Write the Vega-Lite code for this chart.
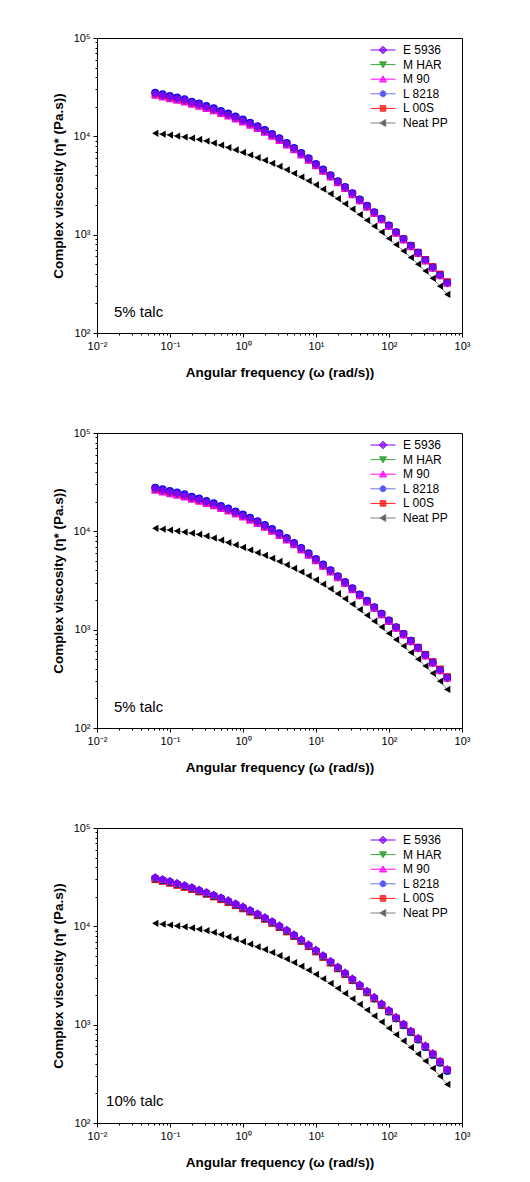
{
  "$schema": "https://vega.github.io/schema/vega-lite/v6.json",
  "background": "white",
  "autosize": {"type": "pad"},
  "padding": {"left": 50, "top": 31, "right": 10, "bottom": 10},
  "spacing": 100,
  "bounds": "flush",
  "config": {
    "view": {"stroke": "black", "strokeWidth": 1},
    "font": "Liberation Sans",
    "axis": {"domainColor": "black", "domainWidth": 1, "tickColor": "black", "tickWidth": 1, "labelColor": "black", "titleColor": "black", "labelFont": "Liberation Sans", "titleFont": "Liberation Sans", "labelFontSize": 11, "titleFontSize": 13.5, "titleFontWeight": "bold", "grid": false, "labelOverlap": false, "labelFlush": false, "labelBound": false}
  },
  "resolve": {"scale": {"color": "independent", "shape": "independent", "size": "independent", "opacity": "independent"}, "legend": {"color": "independent", "shape": "independent", "size": "independent", "opacity": "independent"}},
  "datasets": {
    "p5": [
{"s":"Neat PP","w":0.0628,"v":10720},{"s":"Neat PP","w":0.0791,"v":10520},{"s":"Neat PP","w":0.0996,"v":10300},{"s":"Neat PP","w":0.125,"v":10070},{"s":"Neat PP","w":0.158,"v":9840},{"s":"Neat PP","w":0.199,"v":9570},{"s":"Neat PP","w":0.25,"v":9290},{"s":"Neat PP","w":0.315,"v":8950},{"s":"Neat PP","w":0.397,"v":8550},{"s":"Neat PP","w":0.5,"v":8130},{"s":"Neat PP","w":0.628,"v":7690},{"s":"Neat PP","w":0.791,"v":7280},{"s":"Neat PP","w":0.996,"v":6860},{"s":"Neat PP","w":1.25,"v":6460},{"s":"Neat PP","w":1.58,"v":6070},{"s":"Neat PP","w":1.99,"v":5700},{"s":"Neat PP","w":2.5,"v":5320},{"s":"Neat PP","w":3.15,"v":4940},{"s":"Neat PP","w":3.97,"v":4570},{"s":"Neat PP","w":5,"v":4210},{"s":"Neat PP","w":6.28,"v":3860},{"s":"Neat PP","w":7.91,"v":3530},{"s":"Neat PP","w":9.96,"v":3210},{"s":"Neat PP","w":12.5,"v":2900},{"s":"Neat PP","w":15.8,"v":2600},{"s":"Neat PP","w":19.9,"v":2320},{"s":"Neat PP","w":25,"v":2060},{"s":"Neat PP","w":31.5,"v":1820},{"s":"Neat PP","w":39.7,"v":1600},{"s":"Neat PP","w":50,"v":1400},{"s":"Neat PP","w":62.8,"v":1220},{"s":"Neat PP","w":79.1,"v":1062},{"s":"Neat PP","w":99.6,"v":916},{"s":"Neat PP","w":125,"v":791},{"s":"Neat PP","w":158,"v":682},{"s":"Neat PP","w":199,"v":586},{"s":"Neat PP","w":250,"v":501},{"s":"Neat PP","w":315,"v":427},{"s":"Neat PP","w":397,"v":360},{"s":"Neat PP","w":500,"v":299},{"s":"Neat PP","w":628,"v":247},
{"s":"L 00S","w":0.0628,"v":26800},{"s":"L 00S","w":0.0791,"v":25800},{"s":"L 00S","w":0.0996,"v":24800},{"s":"L 00S","w":0.125,"v":23900},{"s":"L 00S","w":0.158,"v":22900},{"s":"L 00S","w":0.199,"v":21700},{"s":"L 00S","w":0.25,"v":20750},{"s":"L 00S","w":0.315,"v":19650},{"s":"L 00S","w":0.397,"v":18600},{"s":"L 00S","w":0.5,"v":17450},{"s":"L 00S","w":0.628,"v":16400},{"s":"L 00S","w":0.791,"v":15300},{"s":"L 00S","w":0.996,"v":14300},{"s":"L 00S","w":1.25,"v":13280},{"s":"L 00S","w":1.58,"v":12250},{"s":"L 00S","w":1.99,"v":11200},{"s":"L 00S","w":2.5,"v":10210},{"s":"L 00S","w":3.15,"v":9250},{"s":"L 00S","w":3.97,"v":8300},{"s":"L 00S","w":5,"v":7400},{"s":"L 00S","w":6.28,"v":6570},{"s":"L 00S","w":7.91,"v":5810},{"s":"L 00S","w":9.96,"v":5090},{"s":"L 00S","w":12.5,"v":4470},{"s":"L 00S","w":15.8,"v":3920},{"s":"L 00S","w":19.9,"v":3420},{"s":"L 00S","w":25,"v":2980},{"s":"L 00S","w":31.5,"v":2580},{"s":"L 00S","w":39.7,"v":2235},{"s":"L 00S","w":50,"v":1930},{"s":"L 00S","w":62.8,"v":1665},{"s":"L 00S","w":79.1,"v":1430},{"s":"L 00S","w":99.6,"v":1225},{"s":"L 00S","w":125,"v":1050},{"s":"L 00S","w":158,"v":900},{"s":"L 00S","w":199,"v":772},{"s":"L 00S","w":250,"v":658},{"s":"L 00S","w":315,"v":556},{"s":"L 00S","w":397,"v":470},{"s":"L 00S","w":500,"v":395},{"s":"L 00S","w":628,"v":330},
{"s":"L 8218","w":0.0628,"v":27900},{"s":"L 8218","w":0.0791,"v":26850},{"s":"L 8218","w":0.0996,"v":25800},{"s":"L 8218","w":0.125,"v":24900},{"s":"L 8218","w":0.158,"v":23900},{"s":"L 8218","w":0.199,"v":22600},{"s":"L 8218","w":0.25,"v":21600},{"s":"L 8218","w":0.315,"v":20450},{"s":"L 8218","w":0.397,"v":19350},{"s":"L 8218","w":0.5,"v":18200},{"s":"L 8218","w":0.628,"v":17100},{"s":"L 8218","w":0.791,"v":15950},{"s":"L 8218","w":0.996,"v":14900},{"s":"L 8218","w":1.25,"v":13800},{"s":"L 8218","w":1.58,"v":12730},{"s":"L 8218","w":1.99,"v":11630},{"s":"L 8218","w":2.5,"v":10580},{"s":"L 8218","w":3.15,"v":9580},{"s":"L 8218","w":3.97,"v":8590},{"s":"L 8218","w":5,"v":7650},{"s":"L 8218","w":6.28,"v":6780},{"s":"L 8218","w":7.91,"v":5990},{"s":"L 8218","w":9.96,"v":5250},{"s":"L 8218","w":12.5,"v":4610},{"s":"L 8218","w":15.8,"v":4030},{"s":"L 8218","w":19.9,"v":3510},{"s":"L 8218","w":25,"v":3060},{"s":"L 8218","w":31.5,"v":2640},{"s":"L 8218","w":39.7,"v":2285},{"s":"L 8218","w":50,"v":1970},{"s":"L 8218","w":62.8,"v":1700},{"s":"L 8218","w":79.1,"v":1458},{"s":"L 8218","w":99.6,"v":1246},{"s":"L 8218","w":125,"v":1064},{"s":"L 8218","w":158,"v":908},{"s":"L 8218","w":199,"v":772},{"s":"L 8218","w":250,"v":655},{"s":"L 8218","w":315,"v":551},{"s":"L 8218","w":397,"v":463},{"s":"L 8218","w":500,"v":387},{"s":"L 8218","w":628,"v":324},
{"s":"M 90","w":0.0628,"v":26100},{"s":"M 90","w":0.0791,"v":25100},{"s":"M 90","w":0.0996,"v":24150},{"s":"M 90","w":0.125,"v":23300},{"s":"M 90","w":0.158,"v":22350},{"s":"M 90","w":0.199,"v":21150},{"s":"M 90","w":0.25,"v":20250},{"s":"M 90","w":0.315,"v":19150},{"s":"M 90","w":0.397,"v":18150},{"s":"M 90","w":0.5,"v":17050},{"s":"M 90","w":0.628,"v":16050},{"s":"M 90","w":0.791,"v":14950},{"s":"M 90","w":0.996,"v":13980},{"s":"M 90","w":1.25,"v":12990},{"s":"M 90","w":1.58,"v":11990},{"s":"M 90","w":1.99,"v":10970},{"s":"M 90","w":2.5,"v":10010},{"s":"M 90","w":3.15,"v":9080},{"s":"M 90","w":3.97,"v":8160},{"s":"M 90","w":5,"v":7280},{"s":"M 90","w":6.28,"v":6470},{"s":"M 90","w":7.91,"v":5720},{"s":"M 90","w":9.96,"v":5020},{"s":"M 90","w":12.5,"v":4410},{"s":"M 90","w":15.8,"v":3860},{"s":"M 90","w":19.9,"v":3370},{"s":"M 90","w":25,"v":2940},{"s":"M 90","w":31.5,"v":2545},{"s":"M 90","w":39.7,"v":2205},{"s":"M 90","w":50,"v":1905},{"s":"M 90","w":62.8,"v":1645},{"s":"M 90","w":79.1,"v":1413},{"s":"M 90","w":99.6,"v":1209},{"s":"M 90","w":125,"v":1034},{"s":"M 90","w":158,"v":884},{"s":"M 90","w":199,"v":753},{"s":"M 90","w":250,"v":641},{"s":"M 90","w":315,"v":540},{"s":"M 90","w":397,"v":455},{"s":"M 90","w":500,"v":382},{"s":"M 90","w":628,"v":320},
{"s":"M HAR","w":0.0628,"v":26400},{"s":"M HAR","w":0.0791,"v":25400},{"s":"M HAR","w":0.0996,"v":24400},{"s":"M HAR","w":0.125,"v":23550},{"s":"M HAR","w":0.158,"v":22600},{"s":"M HAR","w":0.199,"v":21400},{"s":"M HAR","w":0.25,"v":20450},{"s":"M HAR","w":0.315,"v":19350},{"s":"M HAR","w":0.397,"v":18350},{"s":"M HAR","w":0.5,"v":17200},{"s":"M HAR","w":0.628,"v":16200},{"s":"M HAR","w":0.791,"v":15100},{"s":"M HAR","w":0.996,"v":14100},{"s":"M HAR","w":1.25,"v":13100},{"s":"M HAR","w":1.58,"v":12080},{"s":"M HAR","w":1.99,"v":11050},{"s":"M HAR","w":2.5,"v":10070},{"s":"M HAR","w":3.15,"v":9120},{"s":"M HAR","w":3.97,"v":8180},{"s":"M HAR","w":5,"v":7290},{"s":"M HAR","w":6.28,"v":6470},{"s":"M HAR","w":7.91,"v":5720},{"s":"M HAR","w":9.96,"v":5010},{"s":"M HAR","w":12.5,"v":4400},{"s":"M HAR","w":15.8,"v":3850},{"s":"M HAR","w":19.9,"v":3360},{"s":"M HAR","w":25,"v":2920},{"s":"M HAR","w":31.5,"v":2530},{"s":"M HAR","w":39.7,"v":2190},{"s":"M HAR","w":50,"v":1890},{"s":"M HAR","w":62.8,"v":1630},{"s":"M HAR","w":79.1,"v":1400},{"s":"M HAR","w":99.6,"v":1197},{"s":"M HAR","w":125,"v":1023},{"s":"M HAR","w":158,"v":874},{"s":"M HAR","w":199,"v":744},{"s":"M HAR","w":250,"v":632},{"s":"M HAR","w":315,"v":533},{"s":"M HAR","w":397,"v":449},{"s":"M HAR","w":500,"v":376},{"s":"M HAR","w":628,"v":315},
{"s":"E 5936","w":0.0628,"v":27350},{"s":"E 5936","w":0.0791,"v":26300},{"s":"E 5936","w":0.0996,"v":25290},{"s":"E 5936","w":0.125,"v":24380},{"s":"E 5936","w":0.158,"v":23390},{"s":"E 5936","w":0.199,"v":22130},{"s":"E 5936","w":0.25,"v":21180},{"s":"E 5936","w":0.315,"v":20040},{"s":"E 5936","w":0.397,"v":18970},{"s":"E 5936","w":0.5,"v":17820},{"s":"E 5936","w":0.628,"v":16750},{"s":"E 5936","w":0.791,"v":15630},{"s":"E 5936","w":0.996,"v":14590},{"s":"E 5936","w":1.25,"v":13550},{"s":"E 5936","w":1.58,"v":12500},{"s":"E 5936","w":1.99,"v":11430},{"s":"E 5936","w":2.5,"v":10420},{"s":"E 5936","w":3.15,"v":9440},{"s":"E 5936","w":3.97,"v":8470},{"s":"E 5936","w":5,"v":7550},{"s":"E 5936","w":6.28,"v":6700},{"s":"E 5936","w":7.91,"v":5920},{"s":"E 5936","w":9.96,"v":5190},{"s":"E 5936","w":12.5,"v":4560},{"s":"E 5936","w":15.8,"v":3990},{"s":"E 5936","w":19.9,"v":3480},{"s":"E 5936","w":25,"v":3030},{"s":"E 5936","w":31.5,"v":2620},{"s":"E 5936","w":39.7,"v":2270},{"s":"E 5936","w":50,"v":1960},{"s":"E 5936","w":62.8,"v":1690},{"s":"E 5936","w":79.1,"v":1450},{"s":"E 5936","w":99.6,"v":1240},{"s":"E 5936","w":125,"v":1060},{"s":"E 5936","w":158,"v":906},{"s":"E 5936","w":199,"v":771},{"s":"E 5936","w":250,"v":655},{"s":"E 5936","w":315,"v":552},{"s":"E 5936","w":397,"v":465},{"s":"E 5936","w":500,"v":390},{"s":"E 5936","w":628,"v":327}
    ],
    "p10": [
{"s":"Neat PP","w":0.0628,"v":10720},{"s":"Neat PP","w":0.0791,"v":10530},{"s":"Neat PP","w":0.0996,"v":10320},{"s":"Neat PP","w":0.125,"v":10100},{"s":"Neat PP","w":0.158,"v":9880},{"s":"Neat PP","w":0.199,"v":9630},{"s":"Neat PP","w":0.25,"v":9360},{"s":"Neat PP","w":0.315,"v":9040},{"s":"Neat PP","w":0.397,"v":8660},{"s":"Neat PP","w":0.5,"v":8250},{"s":"Neat PP","w":0.628,"v":7820},{"s":"Neat PP","w":0.791,"v":7410},{"s":"Neat PP","w":0.996,"v":6990},{"s":"Neat PP","w":1.25,"v":6590},{"s":"Neat PP","w":1.58,"v":6190},{"s":"Neat PP","w":1.99,"v":5810},{"s":"Neat PP","w":2.5,"v":5420},{"s":"Neat PP","w":3.15,"v":5030},{"s":"Neat PP","w":3.97,"v":4650},{"s":"Neat PP","w":5,"v":4280},{"s":"Neat PP","w":6.28,"v":3920},{"s":"Neat PP","w":7.91,"v":3580},{"s":"Neat PP","w":9.96,"v":3250},{"s":"Neat PP","w":12.5,"v":2930},{"s":"Neat PP","w":15.8,"v":2630},{"s":"Neat PP","w":19.9,"v":2340},{"s":"Neat PP","w":25,"v":2080},{"s":"Neat PP","w":31.5,"v":1835},{"s":"Neat PP","w":39.7,"v":1610},{"s":"Neat PP","w":50,"v":1410},{"s":"Neat PP","w":62.8,"v":1228},{"s":"Neat PP","w":79.1,"v":1066},{"s":"Neat PP","w":99.6,"v":920},{"s":"Neat PP","w":125,"v":793},{"s":"Neat PP","w":158,"v":683},{"s":"Neat PP","w":199,"v":587},{"s":"Neat PP","w":250,"v":502},{"s":"Neat PP","w":315,"v":427},{"s":"Neat PP","w":397,"v":360},{"s":"Neat PP","w":500,"v":299},{"s":"Neat PP","w":628,"v":247},
{"s":"L 00S","w":0.0628,"v":30050},{"s":"L 00S","w":0.0791,"v":28850},{"s":"L 00S","w":0.0996,"v":27600},{"s":"L 00S","w":0.125,"v":26300},{"s":"L 00S","w":0.158,"v":25050},{"s":"L 00S","w":0.199,"v":23850},{"s":"L 00S","w":0.25,"v":22550},{"s":"L 00S","w":0.315,"v":21300},{"s":"L 00S","w":0.397,"v":20050},{"s":"L 00S","w":0.5,"v":18800},{"s":"L 00S","w":0.628,"v":17550},{"s":"L 00S","w":0.791,"v":16340},{"s":"L 00S","w":0.996,"v":15180},{"s":"L 00S","w":1.25,"v":14040},{"s":"L 00S","w":1.58,"v":12930},{"s":"L 00S","w":1.99,"v":11850},{"s":"L 00S","w":2.5,"v":10780},{"s":"L 00S","w":3.15,"v":9770},{"s":"L 00S","w":3.97,"v":8840},{"s":"L 00S","w":5,"v":7930},{"s":"L 00S","w":6.28,"v":7070},{"s":"L 00S","w":7.91,"v":6260},{"s":"L 00S","w":9.96,"v":5530},{"s":"L 00S","w":12.5,"v":4860},{"s":"L 00S","w":15.8,"v":4260},{"s":"L 00S","w":19.9,"v":3725},{"s":"L 00S","w":25,"v":3255},{"s":"L 00S","w":31.5,"v":2825},{"s":"L 00S","w":39.7,"v":2460},{"s":"L 00S","w":50,"v":2125},{"s":"L 00S","w":62.8,"v":1840},{"s":"L 00S","w":79.1,"v":1580},{"s":"L 00S","w":99.6,"v":1360},{"s":"L 00S","w":125,"v":1160},{"s":"L 00S","w":158,"v":990},{"s":"L 00S","w":199,"v":842},{"s":"L 00S","w":250,"v":712},{"s":"L 00S","w":315,"v":598},{"s":"L 00S","w":397,"v":500},{"s":"L 00S","w":500,"v":417},{"s":"L 00S","w":628,"v":345},
{"s":"L 8218","w":0.0628,"v":30750},{"s":"L 8218","w":0.0791,"v":29500},{"s":"L 8218","w":0.0996,"v":28250},{"s":"L 8218","w":0.125,"v":26900},{"s":"L 8218","w":0.158,"v":25650},{"s":"L 8218","w":0.199,"v":24400},{"s":"L 8218","w":0.25,"v":23050},{"s":"L 8218","w":0.315,"v":21750},{"s":"L 8218","w":0.397,"v":20500},{"s":"L 8218","w":0.5,"v":19230},{"s":"L 8218","w":0.628,"v":17950},{"s":"L 8218","w":0.791,"v":16700},{"s":"L 8218","w":0.996,"v":15520},{"s":"L 8218","w":1.25,"v":14350},{"s":"L 8218","w":1.58,"v":13210},{"s":"L 8218","w":1.99,"v":12100},{"s":"L 8218","w":2.5,"v":11010},{"s":"L 8218","w":3.15,"v":9970},{"s":"L 8218","w":3.97,"v":9010},{"s":"L 8218","w":5,"v":8090},{"s":"L 8218","w":6.28,"v":7210},{"s":"L 8218","w":7.91,"v":6380},{"s":"L 8218","w":9.96,"v":5630},{"s":"L 8218","w":12.5,"v":4950},{"s":"L 8218","w":15.8,"v":4330},{"s":"L 8218","w":19.9,"v":3780},{"s":"L 8218","w":25,"v":3300},{"s":"L 8218","w":31.5,"v":2860},{"s":"L 8218","w":39.7,"v":2490},{"s":"L 8218","w":50,"v":2150},{"s":"L 8218","w":62.8,"v":1855},{"s":"L 8218","w":79.1,"v":1590},{"s":"L 8218","w":99.6,"v":1365},{"s":"L 8218","w":125,"v":1160},{"s":"L 8218","w":158,"v":988},{"s":"L 8218","w":199,"v":838},{"s":"L 8218","w":250,"v":706},{"s":"L 8218","w":315,"v":591},{"s":"L 8218","w":397,"v":492},{"s":"L 8218","w":500,"v":409},{"s":"L 8218","w":628,"v":337},
{"s":"M 90","w":0.0628,"v":31150},{"s":"M 90","w":0.0791,"v":29900},{"s":"M 90","w":0.0996,"v":28600},{"s":"M 90","w":0.125,"v":27250},{"s":"M 90","w":0.158,"v":25950},{"s":"M 90","w":0.199,"v":24700},{"s":"M 90","w":0.25,"v":23350},{"s":"M 90","w":0.315,"v":22050},{"s":"M 90","w":0.397,"v":20750},{"s":"M 90","w":0.5,"v":19480},{"s":"M 90","w":0.628,"v":18180},{"s":"M 90","w":0.791,"v":16920},{"s":"M 90","w":0.996,"v":15720},{"s":"M 90","w":1.25,"v":14540},{"s":"M 90","w":1.58,"v":13380},{"s":"M 90","w":1.99,"v":12260},{"s":"M 90","w":2.5,"v":11150},{"s":"M 90","w":3.15,"v":10100},{"s":"M 90","w":3.97,"v":9130},{"s":"M 90","w":5,"v":8190},{"s":"M 90","w":6.28,"v":7300},{"s":"M 90","w":7.91,"v":6460},{"s":"M 90","w":9.96,"v":5710},{"s":"M 90","w":12.5,"v":5020},{"s":"M 90","w":15.8,"v":4400},{"s":"M 90","w":19.9,"v":3840},{"s":"M 90","w":25,"v":3355},{"s":"M 90","w":31.5,"v":2910},{"s":"M 90","w":39.7,"v":2535},{"s":"M 90","w":50,"v":2190},{"s":"M 90","w":62.8,"v":1890},{"s":"M 90","w":79.1,"v":1625},{"s":"M 90","w":99.6,"v":1395},{"s":"M 90","w":125,"v":1190},{"s":"M 90","w":158,"v":1015},{"s":"M 90","w":199,"v":862},{"s":"M 90","w":250,"v":727},{"s":"M 90","w":315,"v":610},{"s":"M 90","w":397,"v":509},{"s":"M 90","w":500,"v":424},{"s":"M 90","w":628,"v":351},
{"s":"M HAR","w":0.0628,"v":29700},{"s":"M HAR","w":0.0791,"v":28500},{"s":"M HAR","w":0.0996,"v":27300},{"s":"M HAR","w":0.125,"v":26000},{"s":"M HAR","w":0.158,"v":24750},{"s":"M HAR","w":0.199,"v":23550},{"s":"M HAR","w":0.25,"v":22300},{"s":"M HAR","w":0.315,"v":21050},{"s":"M HAR","w":0.397,"v":19800},{"s":"M HAR","w":0.5,"v":18580},{"s":"M HAR","w":0.628,"v":17340},{"s":"M HAR","w":0.791,"v":16140},{"s":"M HAR","w":0.996,"v":15000},{"s":"M HAR","w":1.25,"v":13870},{"s":"M HAR","w":1.58,"v":12760},{"s":"M HAR","w":1.99,"v":11700},{"s":"M HAR","w":2.5,"v":10640},{"s":"M HAR","w":3.15,"v":9640},{"s":"M HAR","w":3.97,"v":8710},{"s":"M HAR","w":5,"v":7820},{"s":"M HAR","w":6.28,"v":6970},{"s":"M HAR","w":7.91,"v":6160},{"s":"M HAR","w":9.96,"v":5450},{"s":"M HAR","w":12.5,"v":4790},{"s":"M HAR","w":15.8,"v":4190},{"s":"M HAR","w":19.9,"v":3660},{"s":"M HAR","w":25,"v":3200},{"s":"M HAR","w":31.5,"v":2775},{"s":"M HAR","w":39.7,"v":2415},{"s":"M HAR","w":50,"v":2085},{"s":"M HAR","w":62.8,"v":1800},{"s":"M HAR","w":79.1,"v":1545},{"s":"M HAR","w":99.6,"v":1330},{"s":"M HAR","w":125,"v":1132},{"s":"M HAR","w":158,"v":965},{"s":"M HAR","w":199,"v":820},{"s":"M HAR","w":250,"v":692},{"s":"M HAR","w":315,"v":580},{"s":"M HAR","w":397,"v":484},{"s":"M HAR","w":500,"v":403},{"s":"M HAR","w":628,"v":333},
{"s":"E 5936","w":0.0628,"v":31480},{"s":"E 5936","w":0.0791,"v":30200},{"s":"E 5936","w":0.0996,"v":28910},{"s":"E 5936","w":0.125,"v":27540},{"s":"E 5936","w":0.158,"v":26240},{"s":"E 5936","w":0.199,"v":24950},{"s":"E 5936","w":0.25,"v":23610},{"s":"E 5936","w":0.315,"v":22280},{"s":"E 5936","w":0.397,"v":20990},{"s":"E 5936","w":0.5,"v":19680},{"s":"E 5936","w":0.628,"v":18370},{"s":"E 5936","w":0.791,"v":17100},{"s":"E 5936","w":0.996,"v":15890},{"s":"E 5936","w":1.25,"v":14690},{"s":"E 5936","w":1.58,"v":13520},{"s":"E 5936","w":1.99,"v":12390},{"s":"E 5936","w":2.5,"v":11270},{"s":"E 5936","w":3.15,"v":10210},{"s":"E 5936","w":3.97,"v":9230},{"s":"E 5936","w":5,"v":8280},{"s":"E 5936","w":6.28,"v":7380},{"s":"E 5936","w":7.91,"v":6530},{"s":"E 5936","w":9.96,"v":5770},{"s":"E 5936","w":12.5,"v":5070},{"s":"E 5936","w":15.8,"v":4440},{"s":"E 5936","w":19.9,"v":3880},{"s":"E 5936","w":25,"v":3390},{"s":"E 5936","w":31.5,"v":2940},{"s":"E 5936","w":39.7,"v":2560},{"s":"E 5936","w":50,"v":2210},{"s":"E 5936","w":62.8,"v":1910},{"s":"E 5936","w":79.1,"v":1640},{"s":"E 5936","w":99.6,"v":1410},{"s":"E 5936","w":125,"v":1200},{"s":"E 5936","w":158,"v":1023},{"s":"E 5936","w":199,"v":869},{"s":"E 5936","w":250,"v":733},{"s":"E 5936","w":315,"v":615},{"s":"E 5936","w":397,"v":513},{"s":"E 5936","w":500,"v":427},{"s":"E 5936","w":628,"v":353}
    ]
  },
  "vconcat": [
    {
      "width": 365, "height": 295,
      "data": {"name": "p5"},
      "layer": [
        {
          "mark": {"type": "line", "strokeWidth": 1, "opacity": 0.45},
          "encoding": {
            "x": {"field": "w", "type": "quantitative", "scale": {"type": "log", "domain": [0.01, 1000]},
              "axis": {"title": "Angular frequency (ω (rad/s))", "titlePadding": 14, "labelPadding": 3,
                "values": [0.01,0.02,0.03,0.04,0.05,0.06,0.07,0.08,0.09,0.1,0.2,0.3,0.4,0.5,0.6,0.7,0.8,0.9,1,2,3,4,5,6,7,8,9,10,20,30,40,50,60,70,80,90,100,200,300,400,500,600,700,800,900,1000],
                "labelExpr": "datum.value == 0.01 ? '10⁻²' : datum.value == 0.1 ? '10⁻¹' : datum.value == 1 ? '10⁰' : datum.value == 10 ? '10¹' : datum.value == 100 ? '10²' : datum.value == 1000 ? '10³' : ''",
                "tickSize": {"condition": {"test": "indexof([0.01,0.1,1,10,100,1000], datum.value) >= 0", "value": 4}, "value": 2}}},
            "y": {"field": "v", "type": "quantitative", "scale": {"type": "log", "domain": [100, 100000]},
              "axis": {"title": "Complex viscosity (η* (Pa.s))", "titlePadding": 8, "labelPadding": 3,
                "values": [100,200,300,400,500,600,700,800,900,1000,2000,3000,4000,5000,6000,7000,8000,9000,10000,20000,30000,40000,50000,60000,70000,80000,90000,100000],
                "labelExpr": "datum.value == 100 ? '10²' : datum.value == 1000 ? '10³' : datum.value == 10000 ? '10⁴' : datum.value == 100000 ? '10⁵' : ''",
                "tickSize": {"condition": {"test": "indexof([100,1000,10000,100000], datum.value) >= 0", "value": 4}, "value": 2}}},
            "color": {"field": "s", "type": "nominal", "scale": {"domain": ["E 5936","M HAR","M 90","L 8218","L 00S","Neat PP"], "range": ["#8000ff","#008000","#ff00ff","#0000ff","#ff0000","#000000"]}, "legend": null}
          }
        },
        {
          "mark": {"type": "point", "filled": true},
          "encoding": {
            "x": {"field": "w", "type": "quantitative"},
            "y": {"field": "v", "type": "quantitative"},
            "size": {"field": "s", "type": "nominal", "scale": {"domain": ["E 5936","M HAR","M 90","L 8218","L 00S","Neat PP"], "range": [72, 52, 52, 46, 38, 48]}, "legend": null},
            "color": {"field": "s", "type": "nominal", "scale": {"domain": ["E 5936","M HAR","M 90","L 8218","L 00S","Neat PP"], "range": ["#8000ff","#008000","#ff00ff","#0000ff","#ff0000","#000000"]}, "legend": null},
            "shape": {"field": "s", "type": "nominal", "scale": {"domain": ["E 5936","M HAR","M 90","L 8218","L 00S","Neat PP"], "range": ["diamond","triangle-down","triangle-up","circle","square","triangle-left"]}, "legend": null},
            "opacity": {"field": "s", "type": "nominal", "scale": {"domain": ["Neat PP","L 00S","L 8218","M 90","M HAR","E 5936"], "range": [1,1,1,1,1,1]},
              "legend": {"orient": "none", "legendX": 280, "legendY": 6, "title": null, "padding": 0, "values": ["E 5936","M HAR","M 90","L 8218","L 00S","Neat PP"], "labelFont": "Liberation Sans", "labelFontSize": 12, "labelColor": "black", "labelOffset": 14, "symbolSize": 100, "rowPadding": 2.6, "symbolStrokeWidth": 1,
                "encoding": {"symbols": {
                  "shape": {"value": {"expr": "datum.value === 'E 5936' ? 'M-2.5,0H2.5M0,-0.75L0.75,0L0,0.75L-0.75,0Z' : datum.value === 'M HAR' ? 'M-2.5,0H2.5M-0.7,-0.55L0.7,-0.55L0,0.65Z' : datum.value === 'M 90' ? 'M-2.5,0H2.5M-0.7,0.55L0.7,0.55L0,-0.65Z' : datum.value === 'L 8218' ? 'M-2.5,0H2.5M0.6,0A0.6,0.6,0,1,1,-0.6,0A0.6,0.6,0,1,1,0.6,0Z' : datum.value === 'L 00S' ? 'M-2.5,0H2.5M-0.55,-0.55H0.55V0.55H-0.55Z' : 'M-2.5,0H2.5M-0.65,0L0.55,-0.7L0.55,0.7Z'"}},
                  "fill": {"value": {"expr": "datum.value === 'E 5936' ? '#8000ff' : datum.value === 'M HAR' ? '#008000' : datum.value === 'M 90' ? '#ff00ff' : datum.value === 'L 8218' ? '#0000ff' : datum.value === 'L 00S' ? '#ff0000' : '#000000'"}},
                  "stroke": {"value": {"expr": "datum.value === 'E 5936' ? '#8000ff' : datum.value === 'M HAR' ? '#3aa83a' : datum.value === 'M 90' ? '#ff00ff' : datum.value === 'L 8218' ? '#7070f0' : datum.value === 'L 00S' ? '#ff2020' : '#808080'"}}
                }}}}
          }
        },
        {
          "data": {"values": [{}]},
          "mark": {"type": "text", "align": "left", "baseline": "middle", "fontSize": 15, "font": "Liberation Sans", "color": "black"},
          "encoding": {"x": {"datum": 0.0171}, "y": {"datum": 163}, "text": {"value": "5% talc"}}
        }
      ]
    },
    {
      "width": 365, "height": 295,
      "data": {"name": "p5"},
      "layer": [
        {
          "mark": {"type": "line", "strokeWidth": 1, "opacity": 0.45},
          "encoding": {
            "x": {"field": "w", "type": "quantitative", "scale": {"type": "log", "domain": [0.01, 1000]},
              "axis": {"title": "Angular frequency (ω (rad/s))", "titlePadding": 14, "labelPadding": 3,
                "values": [0.01,0.02,0.03,0.04,0.05,0.06,0.07,0.08,0.09,0.1,0.2,0.3,0.4,0.5,0.6,0.7,0.8,0.9,1,2,3,4,5,6,7,8,9,10,20,30,40,50,60,70,80,90,100,200,300,400,500,600,700,800,900,1000],
                "labelExpr": "datum.value == 0.01 ? '10⁻²' : datum.value == 0.1 ? '10⁻¹' : datum.value == 1 ? '10⁰' : datum.value == 10 ? '10¹' : datum.value == 100 ? '10²' : datum.value == 1000 ? '10³' : ''",
                "tickSize": {"condition": {"test": "indexof([0.01,0.1,1,10,100,1000], datum.value) >= 0", "value": 4}, "value": 2}}},
            "y": {"field": "v", "type": "quantitative", "scale": {"type": "log", "domain": [100, 100000]},
              "axis": {"title": "Complex viscosity (η* (Pa.s))", "titlePadding": 8, "labelPadding": 3,
                "values": [100,200,300,400,500,600,700,800,900,1000,2000,3000,4000,5000,6000,7000,8000,9000,10000,20000,30000,40000,50000,60000,70000,80000,90000,100000],
                "labelExpr": "datum.value == 100 ? '10²' : datum.value == 1000 ? '10³' : datum.value == 10000 ? '10⁴' : datum.value == 100000 ? '10⁵' : ''",
                "tickSize": {"condition": {"test": "indexof([100,1000,10000,100000], datum.value) >= 0", "value": 4}, "value": 2}}},
            "color": {"field": "s", "type": "nominal", "scale": {"domain": ["E 5936","M HAR","M 90","L 8218","L 00S","Neat PP"], "range": ["#8000ff","#008000","#ff00ff","#0000ff","#ff0000","#000000"]}, "legend": null}
          }
        },
        {
          "mark": {"type": "point", "filled": true},
          "encoding": {
            "x": {"field": "w", "type": "quantitative"},
            "y": {"field": "v", "type": "quantitative"},
            "size": {"field": "s", "type": "nominal", "scale": {"domain": ["E 5936","M HAR","M 90","L 8218","L 00S","Neat PP"], "range": [72, 52, 52, 46, 38, 48]}, "legend": null},
            "color": {"field": "s", "type": "nominal", "scale": {"domain": ["E 5936","M HAR","M 90","L 8218","L 00S","Neat PP"], "range": ["#8000ff","#008000","#ff00ff","#0000ff","#ff0000","#000000"]}, "legend": null},
            "shape": {"field": "s", "type": "nominal", "scale": {"domain": ["E 5936","M HAR","M 90","L 8218","L 00S","Neat PP"], "range": ["diamond","triangle-down","triangle-up","circle","square","triangle-left"]}, "legend": null},
            "opacity": {"field": "s", "type": "nominal", "scale": {"domain": ["Neat PP","L 00S","L 8218","M 90","M HAR","E 5936"], "range": [1,1,1,1,1,1]},
              "legend": {"orient": "none", "legendX": 280, "legendY": 6, "title": null, "padding": 0, "values": ["E 5936","M HAR","M 90","L 8218","L 00S","Neat PP"], "labelFont": "Liberation Sans", "labelFontSize": 12, "labelColor": "black", "labelOffset": 14, "symbolSize": 100, "rowPadding": 2.6, "symbolStrokeWidth": 1,
                "encoding": {"symbols": {
                  "shape": {"value": {"expr": "datum.value === 'E 5936' ? 'M-2.5,0H2.5M0,-0.75L0.75,0L0,0.75L-0.75,0Z' : datum.value === 'M HAR' ? 'M-2.5,0H2.5M-0.7,-0.55L0.7,-0.55L0,0.65Z' : datum.value === 'M 90' ? 'M-2.5,0H2.5M-0.7,0.55L0.7,0.55L0,-0.65Z' : datum.value === 'L 8218' ? 'M-2.5,0H2.5M0.6,0A0.6,0.6,0,1,1,-0.6,0A0.6,0.6,0,1,1,0.6,0Z' : datum.value === 'L 00S' ? 'M-2.5,0H2.5M-0.55,-0.55H0.55V0.55H-0.55Z' : 'M-2.5,0H2.5M-0.65,0L0.55,-0.7L0.55,0.7Z'"}},
                  "fill": {"value": {"expr": "datum.value === 'E 5936' ? '#8000ff' : datum.value === 'M HAR' ? '#008000' : datum.value === 'M 90' ? '#ff00ff' : datum.value === 'L 8218' ? '#0000ff' : datum.value === 'L 00S' ? '#ff0000' : '#000000'"}},
                  "stroke": {"value": {"expr": "datum.value === 'E 5936' ? '#8000ff' : datum.value === 'M HAR' ? '#3aa83a' : datum.value === 'M 90' ? '#ff00ff' : datum.value === 'L 8218' ? '#7070f0' : datum.value === 'L 00S' ? '#ff2020' : '#808080'"}}
                }}}}
          }
        },
        {
          "data": {"values": [{}]},
          "mark": {"type": "text", "align": "left", "baseline": "middle", "fontSize": 15, "font": "Liberation Sans", "color": "black"},
          "encoding": {"x": {"datum": 0.0171}, "y": {"datum": 163}, "text": {"value": "5% talc"}}
        }
      ]
    },
    {
      "width": 365, "height": 295,
      "data": {"name": "p10"},
      "layer": [
        {
          "mark": {"type": "line", "strokeWidth": 1, "opacity": 0.45},
          "encoding": {
            "x": {"field": "w", "type": "quantitative", "scale": {"type": "log", "domain": [0.01, 1000]},
              "axis": {"title": "Angular frequency (ω (rad/s))", "titlePadding": 14, "labelPadding": 3,
                "values": [0.01,0.02,0.03,0.04,0.05,0.06,0.07,0.08,0.09,0.1,0.2,0.3,0.4,0.5,0.6,0.7,0.8,0.9,1,2,3,4,5,6,7,8,9,10,20,30,40,50,60,70,80,90,100,200,300,400,500,600,700,800,900,1000],
                "labelExpr": "datum.value == 0.01 ? '10⁻²' : datum.value == 0.1 ? '10⁻¹' : datum.value == 1 ? '10⁰' : datum.value == 10 ? '10¹' : datum.value == 100 ? '10²' : datum.value == 1000 ? '10³' : ''",
                "tickSize": {"condition": {"test": "indexof([0.01,0.1,1,10,100,1000], datum.value) >= 0", "value": 4}, "value": 2}}},
            "y": {"field": "v", "type": "quantitative", "scale": {"type": "log", "domain": [100, 100000]},
              "axis": {"title": "Complex viscosity (η* (Pa.s))", "titlePadding": 8, "labelPadding": 3,
                "values": [100,200,300,400,500,600,700,800,900,1000,2000,3000,4000,5000,6000,7000,8000,9000,10000,20000,30000,40000,50000,60000,70000,80000,90000,100000],
                "labelExpr": "datum.value == 100 ? '10²' : datum.value == 1000 ? '10³' : datum.value == 10000 ? '10⁴' : datum.value == 100000 ? '10⁵' : ''",
                "tickSize": {"condition": {"test": "indexof([100,1000,10000,100000], datum.value) >= 0", "value": 4}, "value": 2}}},
            "color": {"field": "s", "type": "nominal", "scale": {"domain": ["E 5936","M HAR","M 90","L 8218","L 00S","Neat PP"], "range": ["#8000ff","#008000","#ff00ff","#0000ff","#ff0000","#000000"]}, "legend": null}
          }
        },
        {
          "mark": {"type": "point", "filled": true},
          "encoding": {
            "x": {"field": "w", "type": "quantitative"},
            "y": {"field": "v", "type": "quantitative"},
            "size": {"field": "s", "type": "nominal", "scale": {"domain": ["E 5936","M HAR","M 90","L 8218","L 00S","Neat PP"], "range": [72, 52, 52, 46, 38, 48]}, "legend": null},
            "color": {"field": "s", "type": "nominal", "scale": {"domain": ["E 5936","M HAR","M 90","L 8218","L 00S","Neat PP"], "range": ["#8000ff","#008000","#ff00ff","#0000ff","#ff0000","#000000"]}, "legend": null},
            "shape": {"field": "s", "type": "nominal", "scale": {"domain": ["E 5936","M HAR","M 90","L 8218","L 00S","Neat PP"], "range": ["diamond","triangle-down","triangle-up","circle","square","triangle-left"]}, "legend": null},
            "opacity": {"field": "s", "type": "nominal", "scale": {"domain": ["Neat PP","L 00S","L 8218","M 90","M HAR","E 5936"], "range": [1,1,1,1,1,1]},
              "legend": {"orient": "none", "legendX": 280, "legendY": 6, "title": null, "padding": 0, "values": ["E 5936","M HAR","M 90","L 8218","L 00S","Neat PP"], "labelFont": "Liberation Sans", "labelFontSize": 12, "labelColor": "black", "labelOffset": 14, "symbolSize": 100, "rowPadding": 2.6, "symbolStrokeWidth": 1,
                "encoding": {"symbols": {
                  "shape": {"value": {"expr": "datum.value === 'E 5936' ? 'M-2.5,0H2.5M0,-0.75L0.75,0L0,0.75L-0.75,0Z' : datum.value === 'M HAR' ? 'M-2.5,0H2.5M-0.7,-0.55L0.7,-0.55L0,0.65Z' : datum.value === 'M 90' ? 'M-2.5,0H2.5M-0.7,0.55L0.7,0.55L0,-0.65Z' : datum.value === 'L 8218' ? 'M-2.5,0H2.5M0.6,0A0.6,0.6,0,1,1,-0.6,0A0.6,0.6,0,1,1,0.6,0Z' : datum.value === 'L 00S' ? 'M-2.5,0H2.5M-0.55,-0.55H0.55V0.55H-0.55Z' : 'M-2.5,0H2.5M-0.65,0L0.55,-0.7L0.55,0.7Z'"}},
                  "fill": {"value": {"expr": "datum.value === 'E 5936' ? '#8000ff' : datum.value === 'M HAR' ? '#008000' : datum.value === 'M 90' ? '#ff00ff' : datum.value === 'L 8218' ? '#0000ff' : datum.value === 'L 00S' ? '#ff0000' : '#000000'"}},
                  "stroke": {"value": {"expr": "datum.value === 'E 5936' ? '#8000ff' : datum.value === 'M HAR' ? '#3aa83a' : datum.value === 'M 90' ? '#ff00ff' : datum.value === 'L 8218' ? '#7070f0' : datum.value === 'L 00S' ? '#ff2020' : '#808080'"}}
                }}}}
          }
        },
        {
          "data": {"values": [{}]},
          "mark": {"type": "text", "align": "left", "baseline": "middle", "fontSize": 15, "font": "Liberation Sans", "color": "black"},
          "encoding": {"x": {"datum": 0.0133}, "y": {"datum": 166}, "text": {"value": "10% talc"}}
        }
      ]
    }
  ]
}
